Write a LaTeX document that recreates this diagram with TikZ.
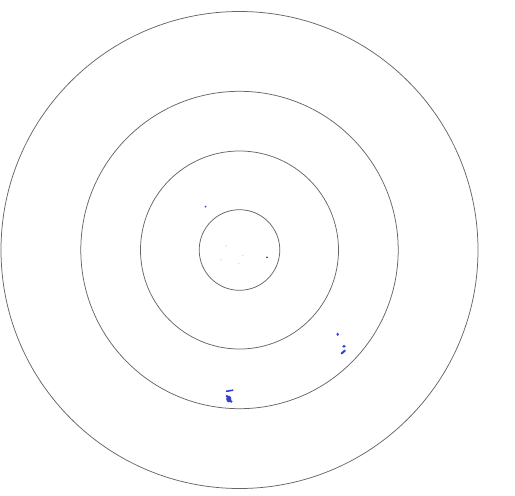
\documentclass[tikz,border=0pt]{standalone}
\definecolor{dotblue}{RGB}{52,64,206}
\begin{document}
\begin{tikzpicture}[x=1pt,y=-1pt,
  ring/.style={draw=black!60,line width=0.75pt},
  speck/.style={fill=dotblue,draw=none},
  faint/.style={fill=cyan!30,draw=none}]
\useasboundingbox (0,0) rectangle (515,496);
\coordinate (c) at (239.5,250);
\draw[ring] (c) circle[radius=238.5];
\draw[ring] (c) circle[radius=158.7];
\draw[ring] (c) circle[radius=99];
\draw[ring] (c) circle[radius=40.3];
% specks
\fill[speck] (205.5,206.5) circle[radius=1];
\fill[speck] (267,257.3) circle[radius=1];
\fill[faint] (226,245.7) circle[radius=0.8];
\fill[faint] (242.7,255.3) circle[radius=0.8];
\fill[blue!15] (221,259.7) circle[radius=0.8];
\fill[faint] (238.7,263.7) circle[radius=0.8];
\fill[speck] (337.7,334.3) ellipse[x radius=1.3,y radius=1.8];
\fill[speck] (344,346.3) ellipse[x radius=1.8,y radius=1.4];
\draw[dotblue,line width=2pt,line cap=round] (341.5,353.5) -- (345,350.5);
\draw[dotblue,line width=1.6pt,line cap=round] (226.5,391.3) -- (232.8,390.2);
\fill[speck] (228.8,399) ellipse[x radius=2.6,y radius=3.4];
\fill[speck] (226.8,396) circle[radius=1.3];
\fill[speck] (231.3,401.5) circle[radius=1.3];
\end{tikzpicture}
\end{document}
